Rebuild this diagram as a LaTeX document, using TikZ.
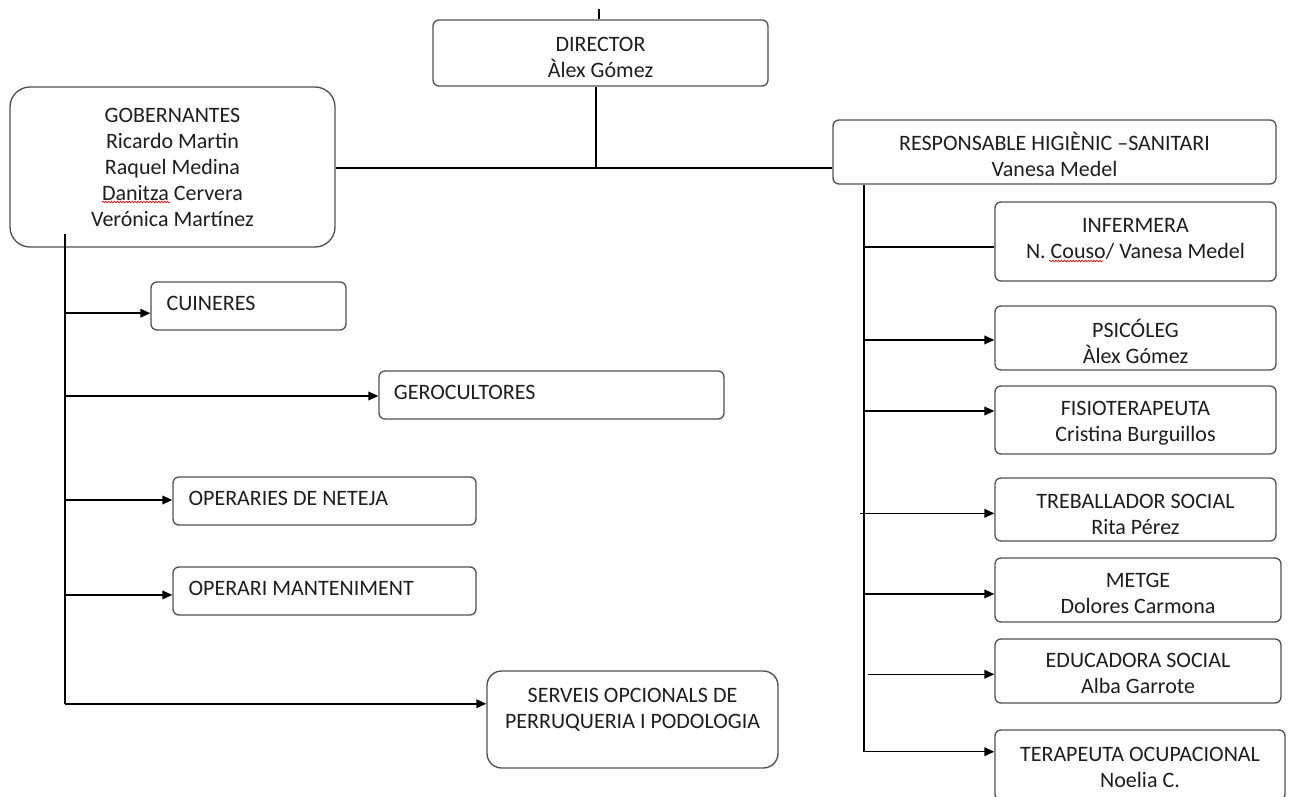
\documentclass[tikz,border=0pt]{standalone}
\usepackage{fontspec}
\setmainfont{Carlito}
\usetikzlibrary{arrows.meta,calc,decorations.pathmorphing}
\definecolor{boxgray}{HTML}{505050}
\definecolor{txt}{HTML}{1E1E1E}
\begin{document}
\begin{tikzpicture}[x=0.75pt,y=-0.75pt,
  font=\fontsize{16.5}{19.5}\selectfont,
  box/.style n args={2}{draw=boxgray, line width=1pt, rounded corners=4.5pt,
    minimum width=#1*0.75pt, minimum height=#2*0.75pt, inner sep=0pt,
    fill=white},
  ctext/.style={inner sep=0pt, align=center, text=txt},
  lbl/.style={anchor=west, inner sep=0pt, text=txt},
  conn/.style={draw=black, line width=1.1pt},
  arr/.style={conn, -{Triangle[length=7.5pt,width=6.5pt]}},
  wave/.style={draw=red, line width=0.5pt, decorate,
    decoration={snake, amplitude=0.6pt, segment length=2.2pt}}]
\useasboundingbox (0,0) rectangle (1292,796);
\clip (0,0) rectangle (1292,796);
\fill[white] (0,0) rectangle (1292,796);

% top boxes
\node[box={335}{66}] (dir) at (600.5,53) {};
\node[ctext] (dirT) at ([yshift=-3pt]dir.center) {DIRECTOR\\Àlex Gómez};
\node[box={325}{160}, rounded corners=15pt] (gob) at (172.5,167) {};
\node[ctext] (gobT) at (gob.center)
  {GOBERNANTES\\Ricardo Martin\\Raquel Medina\\Danitza Cervera\\Verónica Martínez};
\node[box={443}{64}] (resp) at (1054.5,152) {};
\node[ctext] (respT) at ([yshift=-1.5pt]resp.center) {RESPONSABLE HIGIÈNIC –SANITARI\\Vanesa Medel};

% right column
\node[box={281}{79}] (inf) at (1135.5,241.5) {};
\node[ctext] (infT) at ([yshift=1.9pt]inf.center) {INFERMERA\\N. Couso/ Vanesa Medel};
\node[box={281}{64}] (psi) at (1135.5,338) {};
\node[ctext] (psiT) at ([yshift=-2.2pt]psi.center) {PSICÓLEG\\Àlex Gómez};
\node[box={281}{68}] (fis) at (1135.5,420) {};
\node[ctext] (fisT) at ([yshift=-2.6pt]fis.center) {FISIOTERAPEUTA\\Cristina Burguillos};
\node[box={281}{63}] (treb) at (1135.5,509.5) {};
\node[ctext] (trebT) at ([yshift=-3.4pt]treb.center) {TREBALLADOR SOCIAL\\Rita Pérez};
\node[box={286}{64}] (met) at (1138,590) {};
\node[ctext] (metT) at ([yshift=-2.6pt]met.center) {METGE\\Dolores Carmona};
\node[box={286}{64}] (edu) at (1138,671) {};
\node[ctext] (eduT) at ([yshift=-2.2pt]edu.center) {EDUCADORA SOCIAL\\Alba Garrote};
\node[box={290}{70}] (ter) at (1140,765) {};
\node[ctext] (terT) at ([yshift=-1.9pt]ter.center) {TERAPEUTA OCUPACIONAL\\Noelia C.};

% left column
\node[box={195}{48}] (cui) at (248.5,306) {};
\node[lbl] (cuiT) at ([xshift=12pt,yshift=2.2pt]cui.west) {CUINERES};
\node[box={345}{48}] (ger) at (551.5,395) {};
\node[lbl] (gerT) at ([xshift=11.5pt,yshift=2.2pt]ger.west) {GEROCULTORES};
\node[box={303}{48}] (opn) at (324.5,501) {};
\node[lbl] (opnT) at ([xshift=12pt,yshift=2.2pt]opn.west) {OPERARIES DE NETEJA};
\node[box={303}{48}] (opm) at (324.5,591) {};
\node[lbl] (opmT) at ([xshift=12pt,yshift=2.2pt]opm.west) {OPERARI MANTENIMENT};
\node[box={291}{97}, rounded corners=11pt] (serv) at (632.5,719.5) {};
\node[ctext] (servT) at ([yshift=6.9pt]serv.center) {SERVEIS OPCIONALS DE\\PERRUQUERIA I PODOLOGIA};

% spell-check underlines
\draw[wave] (102,202) -- (170,202);
\draw[wave] (1049,261) -- (1103,261);

% top connectors
\coordinate (tk) at (599,9);
\draw[conn, line width=1.4pt] (tk) -- (tk |- dir.north);
\coordinate (j) at (596,168);
\draw[conn] (j |- dir.south) -- (j);
\draw[conn] (gob.east |- j) -- (resp.west |- j);

% left trunk
\coordinate (lt) at (65,234);
\coordinate (a1) at ($(cui.north west)!0.646!(cui.south west)$);
\coordinate (a2) at ($(ger.north west)!0.52!(ger.south west)$);
\coordinate (a3) at ($(opn.north west)!0.48!(opn.south west)$);
\coordinate (a4) at ($(opm.north west)!0.58!(opm.south west)$);
\coordinate (a5) at ($(serv.north west)!0.34!(serv.south west)$);
\draw[conn] (lt) -- (lt |- a5);
\draw[arr] (lt |- a1) -- (a1);
\draw[arr] (lt |- a2) -- (a2);
\draw[arr] (lt |- a3) -- (a3);
\draw[arr] (lt |- a4) -- (a4);
\draw[arr] (lt |- a5) -- (a5);

% right trunk
\coordinate (rt) at (864,0);
\coordinate (b1) at ($(inf.north west)!0.57!(inf.south west)$);
\coordinate (b2) at ($(psi.north west)!0.53!(psi.south west)$);
\coordinate (b3) at ($(fis.north west)!0.37!(fis.south west)$);
\coordinate (b4) at ($(treb.north west)!0.56!(treb.south west)$);
\coordinate (b5) at ($(met.north west)!0.56!(met.south west)$);
\coordinate (b6) at ($(edu.north west)!0.55!(edu.south west)$);
\coordinate (b7) at ($(ter.north west)!0.314!(ter.south west)$);
\draw[conn] (rt |- resp.south) -- (rt |- b7);
\draw[conn] (rt |- b1) -- (b1);
\draw[arr] (rt |- b2) -- (b2);
\draw[arr] (rt |- b3) -- (b3);
\draw[arr] ([xshift=-3pt]rt |- b4) -- (b4);
\draw[arr] (rt |- b5) -- (b5);
\draw[arr] ([xshift=3pt]rt |- b6) -- (b6);
\draw[arr] (rt |- b7) -- (b7);
\end{tikzpicture}
\end{document}
